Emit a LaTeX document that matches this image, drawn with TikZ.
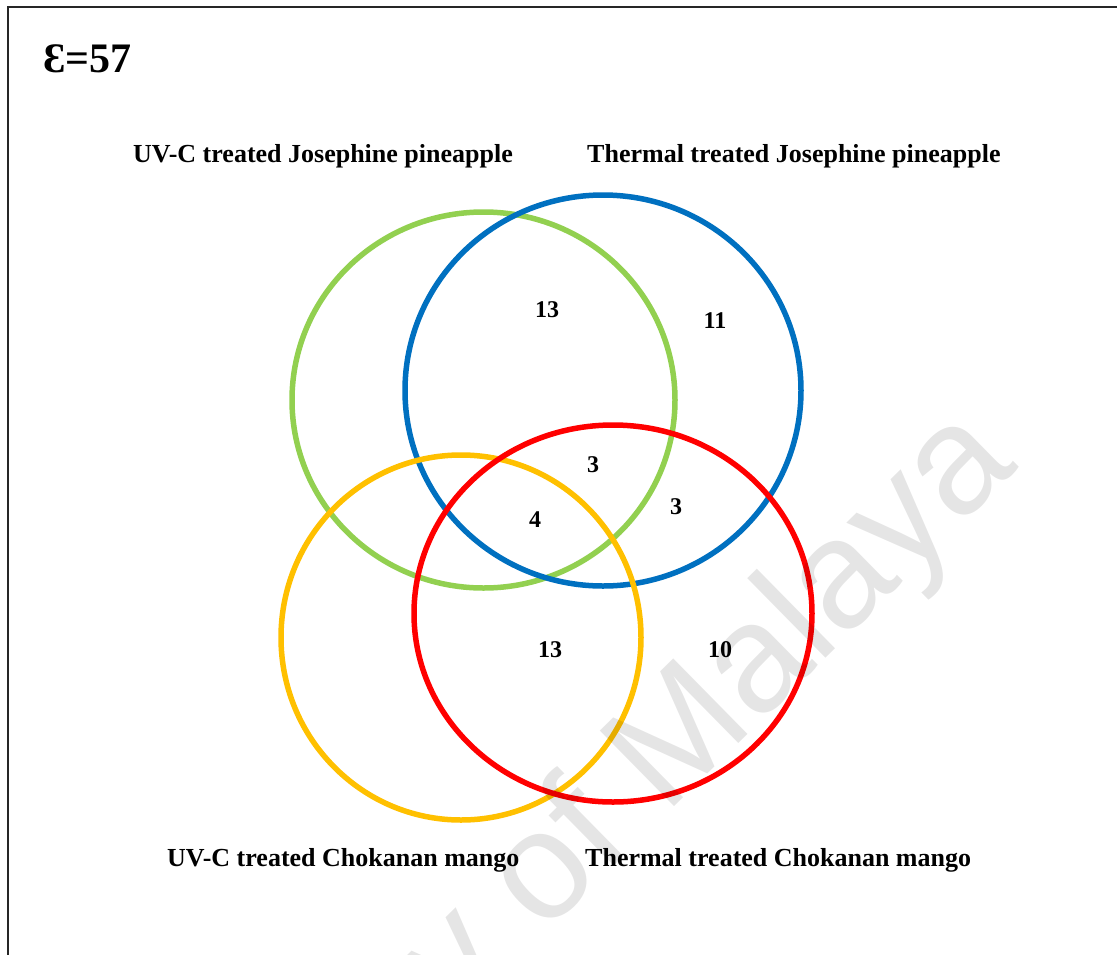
\documentclass[tikz,border=0pt]{standalone}
\usepackage{fontspec}
\setmainfont{Liberation Serif}
\newfontfamily\wmfont{Liberation Sans}
\definecolor{vgreen}{HTML}{92D050}
\definecolor{vblue}{HTML}{0070C0}
\definecolor{vyellow}{HTML}{FFC000}
\definecolor{vred}{HTML}{FF0000}
\begin{document}
\begin{tikzpicture}[x=1pt,y=-1pt,
  ring/.style={line width=5.5pt},
  setlabel/.style={anchor=base west, inner sep=0pt, font=\fontsize{26}{30}\selectfont\bfseries},
  count/.style={inner sep=0pt, font=\fontsize{24}{28}\selectfont\bfseries},
  wmark/.style={rotate=44.5, inner sep=0pt, text=black, text opacity=0.1, font=\wmfont\fontsize{154}{154}\selectfont}]
\useasboundingbox (0,0) rectangle (1117,954);
\begin{scope}
\clip (0,0) rectangle (1117,954);
\fill[white] (0,0) rectangle (1117,954);
\draw[line width=2pt, black!85] (8,7) rectangle (1140,980);
% title
\node[anchor=base west, inner sep=0pt, font=\fontsize{42}{48}\selectfont\bfseries] (title) at (43,72) {Ɛ=57};
% set labels
\node[setlabel] (lab1) at (133,162) {UV-C treated Josephine pineapple};
\node[setlabel] (lab2) at (587,162) {Thermal treated Josephine pineapple};
\node[setlabel] (lab3) at (167,866) {UV-C treated Chokanan mango};
\node[setlabel] (lab4) at (585,866) {Thermal treated Chokanan mango};
% circles
\draw[ring, vgreen] (483.5,400) ellipse [x radius=191.5pt, y radius=188pt];
\draw[ring, vblue] (603,390.5) ellipse [x radius=198pt, y radius=195.5pt];
\draw[ring, vyellow] (461,637.5) ellipse [x radius=180pt, y radius=182.5pt];
\draw[ring, vred] (613,613.5) ellipse [x radius=199pt, y radius=188.5pt];
% counts
\node[count] (n1) at (547,310) {13};
\node[count] (n2) at (715,321) {11};
\node[count] (n3) at (593,465) {3};
\node[count] (n4) at (535,520) {4};
\node[count] (n5) at (676,507) {3};
\node[count] (n6) at (550,650) {13};
\node[count] (n7) at (720,650) {10};
% watermark
\node[wmark, anchor=base east] (wm) at (1020,467) {University of Malaya};
\end{scope}
\end{tikzpicture}
\end{document}
